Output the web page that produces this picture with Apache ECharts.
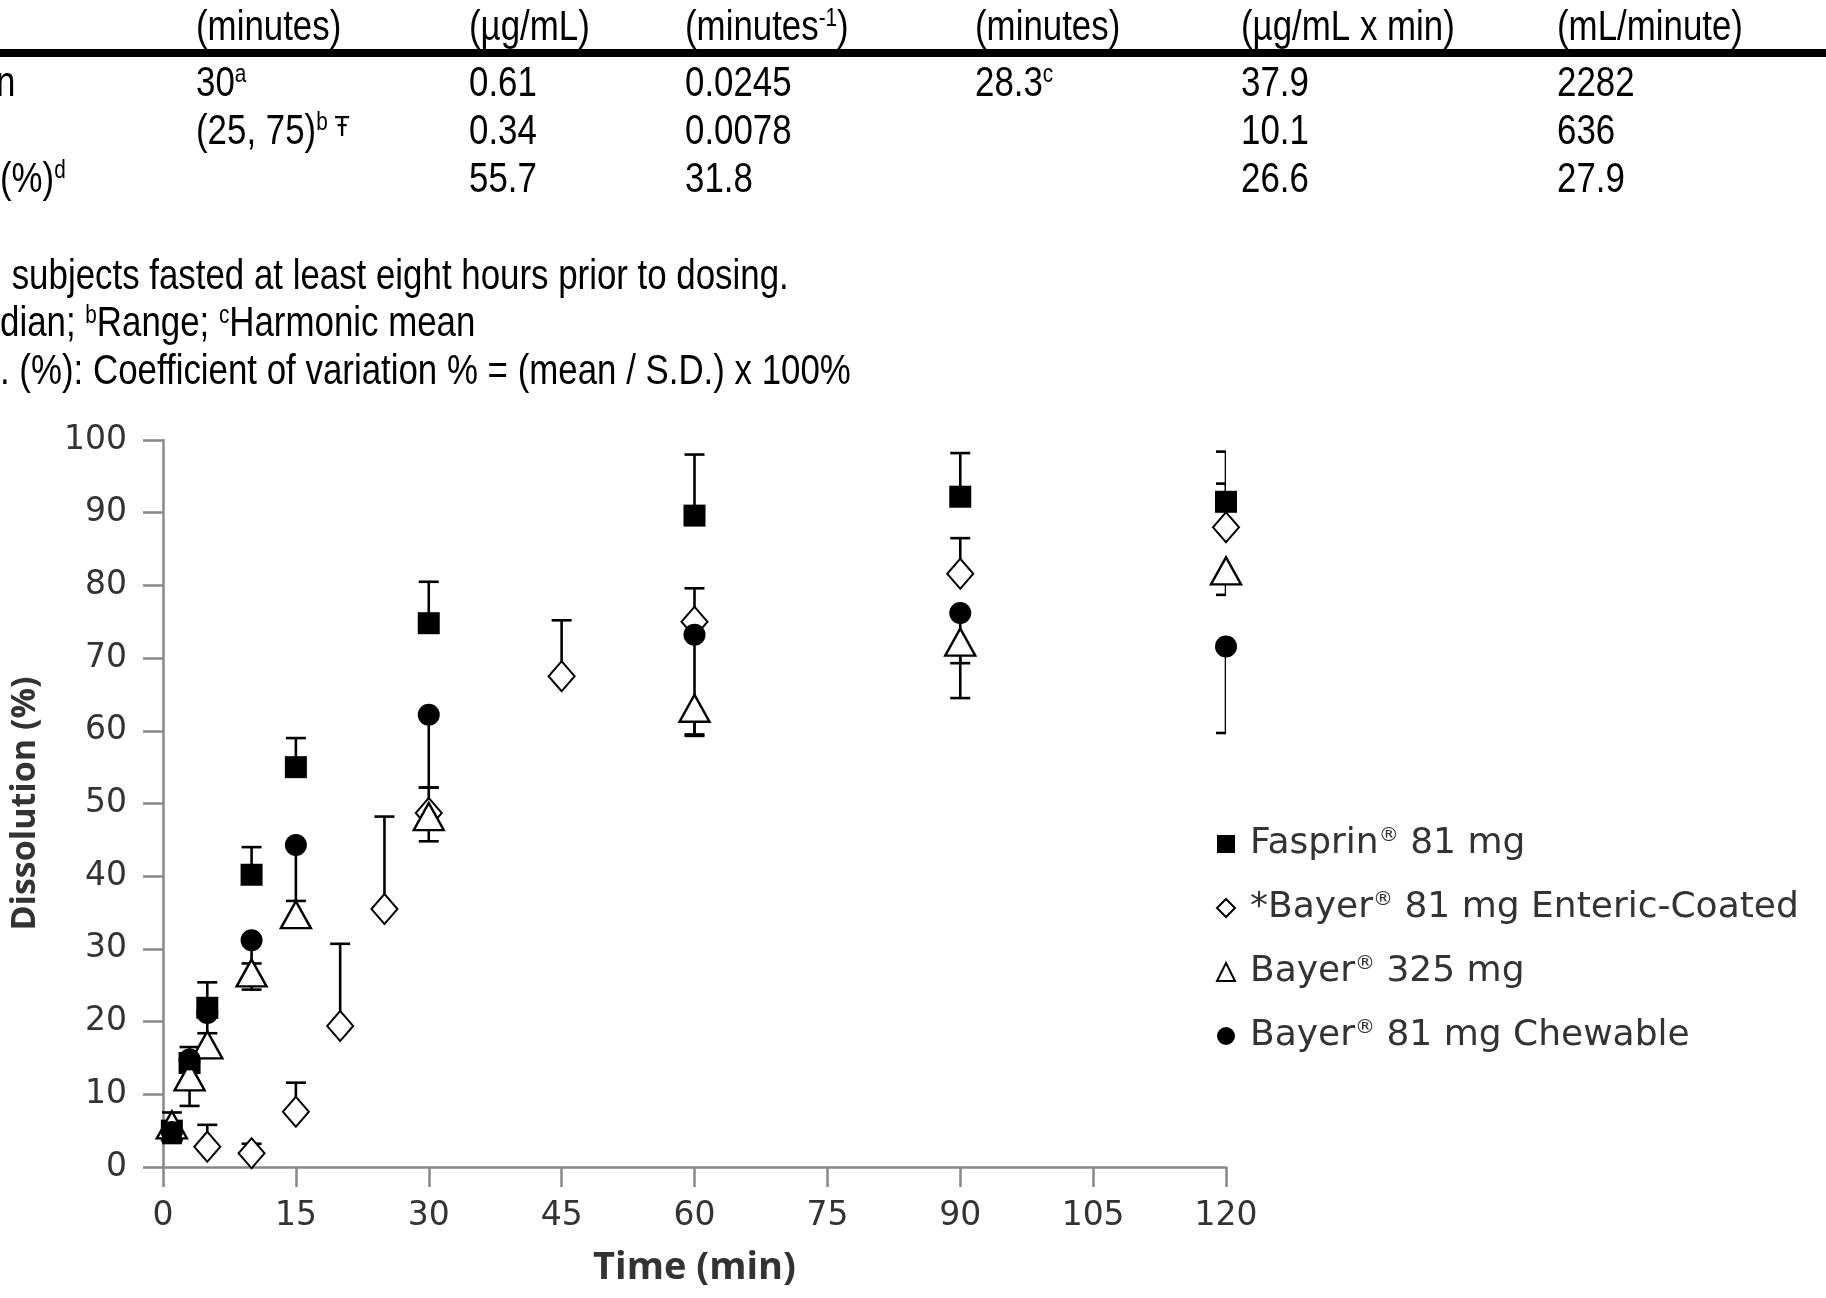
<!DOCTYPE html>
<html>
<head>
<meta charset="utf-8">
<script src="https://cdn.jsdelivr.net/npm/echarts@6/dist/echarts.min.js"></script>
<style>
  html, body { margin: 0; padding: 0; background: #fff; }
  #chart { width: 1826px; height: 1298px; }
</style>
</head>
<body>
<div id="chart"></div>
<script>
// dissolution data (time in min, % dissolved)
var fasprinT = [1, 3, 5, 10, 15, 30, 60, 90, 120];
var fasprinMean = [5, 14.3, 21.9, 40.2, 55, 74.8, 89.6, 92.2, 91.5];
var fasprinUpper = [7.5, 16.5, 25.4, 44, 59, 80.5, 98, 98.2, 98.4];

var ecT = [5, 10, 15, 20, 25, 30, 45, 60, 90, 120];
var ecMean = [2.8, 1.9, 7.6, 19.4, 35.5, 48.7, 67.5, 75, 81.6, 88];
var ecUpper = [5.8, 3.2, 11.6, 30.7, 48.2, 52.2, 75.2, 79.6, 86.5, 94];

var b325T = [1, 3, 5, 10, 15, 30, 60, 90, 120];
var b325Mean = [5.8, 12.4, 16.8, 26.7, 34.7, 48.2, 63.1, 72.2, 82];
var b325Lower = [3.3, 8.4, 15.5, 24.4, 33.5, 44.8, 59.3, 64.5, 78.7];

var chewT = [1, 3, 5, 10, 15, 30, 60, 90, 120];
var chewMean = [4.8, 14.8, 21.2, 31.2, 44.3, 62.2, 73.2, 76.2, 71.6];
var chewLower = [3.5, 13, 18.4, 28, 36.6, 52.2, 59.5, 69.3, 59.7];

var seriesNames = ['Fasprin® 81 mg', '*Bayer® 81 mg Enteric-Coated', 'Bayer® 325 mg', 'Bayer® 81 mg Chewable'];

// table above the chart
var tableHead = ['(minutes)', '(µg/mL)', '(minutes{s|-1})', '(minutes)', '(µg/mL x min)', '(mL/minute)'];
var tableRow1 = ['30{s|a}', '0.61', '0.0245', '28.3{s|c}', '37.9', '2282'];
var tableRow2 = ['(25, 75){s|b}{d| Ŧ}', '0.34', '0.0078', '', '10.1', '636'];
var tableRow3 = ['', '55.7', '31.8', '', '26.6', '27.9'];
var footnotes = [
  ' subjects fasted at least eight hours prior to dosing.',
  'dian; {s|b}Range; {s|c}Harmonic mean',
  '. (%): Coefficient of variation % = (mean / S.D.) x 100%'
];

var colX = [196, 469, 685, 975, 1241, 1557];
var tFont = '"Liberation Sans", Arial, sans-serif';
var rich = {
  s: { fontSize: 25, fontFamily: tFont, verticalAlign: 'top', lineHeight: 20, padding: [0, 0, 14, 0] },
  d: { fontSize: 30, fontFamily: tFont, color: '#444', padding: [0, 0, 8, 0] }
};

function tText(str, x, y) {
  return {
    type: 'text', x: x, y: y, scaleX: 0.83, silent: true,
    style: {
      text: str, fontSize: 42, fontFamily: tFont, fill: '#000',
      verticalAlign: 'middle', align: 'left', rich: rich
    }
  };
}

var graphics = [];
[[tableHead, 28], [tableRow1, 84], [tableRow2, 132], [tableRow3, 180]].forEach(function (r) {
  r[0].forEach(function (s, i) {
    if (s) graphics.push(tText(s, colX[i], r[1]));
  });
});
graphics.push(tText('n', -4, 84));
graphics.push(tText('(%){s|d}', 0, 180));
graphics.push({ type: 'rect', silent: true, shape: { x: 0, y: 49, width: 1826, height: 8 }, style: { fill: '#000' } });
footnotes.forEach(function (s, i) {
  graphics.push(tText(s, i === 0 ? 2 : 0, 277 + i * 47.5));
});

function errData(t, m, e) {
  return t.map(function (x, i) { return [x, m[i], e[i]]; });
}
function ptData(t, m) {
  return t.map(function (x, i) { return [x, m[i]]; });
}

function renderErr(params, api) {
  var x = api.value(0);
  var a = api.coord([x, api.value(1)]);
  var b = api.coord([x, api.value(2)]);
  var st = { stroke: '#000', lineWidth: 2.6 };
  return {
    type: 'group',
    children: [
      { type: 'line', shape: { x1: a[0], y1: a[1], x2: b[0], y2: b[1] }, style: st },
      { type: 'line', shape: { x1: b[0] - 10, y1: b[1], x2: b[0] + 10, y2: b[1] }, style: st }
    ]
  };
}

function errSeries(data) {
  return {
    type: 'custom', renderItem: renderErr, data: data, clip: true, z: 1,
    encode: { x: 0, y: [1, 2] }, silent: true
  };
}

var chart = echarts.init(document.getElementById('chart'));
var cFont = '"DejaVu Sans", "Open Sans", sans-serif';
var bFont = '"Open Sans", "DejaVu Sans", sans-serif';

var option = {
  backgroundColor: '#fff',
  animation: false,
  graphic: graphics,
  grid: { left: 162, right: 600, top: 440, bottom: 131 },
  legend: {
    orient: 'vertical', left: 1211, top: 821, itemGap: 28,
    itemWidth: 18, itemHeight: 18,
    data: seriesNames,
    formatter: function (n) { return n.replace('® ', '{r|®} '); },
    textStyle: {
      fontFamily: cFont, fontSize: 36, color: '#333', padding: [0, 0, 0, 10],
      rich: { r: { fontFamily: cFont, fontSize: 20, color: '#333', verticalAlign: 'top', padding: [0, 0, 14, 0] } }
    }
  },
  xAxis: {
    type: 'value', min: 0, max: 120, interval: 15,
    name: 'Time (min)', nameLocation: 'middle', nameGap: 82,
    nameTextStyle: { fontFamily: bFont, fontSize: 38, fontWeight: 'bold', color: '#333' },
    axisLine: { lineStyle: { color: '#888', width: 2.5 } },
    axisTick: { length: 20, lineStyle: { color: '#888', width: 2.5 } },
    axisLabel: { margin: 33, fontFamily: cFont, fontSize: 33, color: '#333' },
    splitLine: { show: false }
  },
  yAxis: {
    type: 'value', min: 0, max: 100, interval: 10,
    name: 'Dissolution (%)', nameLocation: 'middle', nameGap: 121,
    nameTextStyle: { fontFamily: bFont, fontSize: 34, fontWeight: 'bold', color: '#333' },
    axisLine: { show: true, lineStyle: { color: '#888', width: 2.5 } },
    axisTick: { show: true, length: 20, lineStyle: { color: '#888', width: 2.5 } },
    axisLabel: { margin: 36, fontFamily: cFont, fontSize: 33, color: '#333' },
    splitLine: { show: false }
  },
  series: [
    errSeries(errData(fasprinT, fasprinMean, fasprinUpper)),
    errSeries(errData(ecT, ecMean, ecUpper)),
    errSeries(errData(b325T, b325Mean, b325Lower)),
    errSeries(errData(chewT, chewMean, chewLower)),
    {
      name: seriesNames[0], type: 'scatter', symbol: 'rect', symbolSize: 22, z: 3,
      itemStyle: { color: '#000', opacity: 1 }, data: ptData(fasprinT, fasprinMean)
    },
    {
      name: seriesNames[1], type: 'scatter', symbol: 'diamond', symbolSize: [26, 30], z: 3,
      itemStyle: { color: '#fff', borderColor: '#000', borderWidth: 2, opacity: 1 }, data: ptData(ecT, ecMean)
    },
    {
      name: seriesNames[2], type: 'scatter', symbol: 'triangle', symbolSize: [30, 27], z: 3,
      itemStyle: { color: '#fff', borderColor: '#000', borderWidth: 2.4, opacity: 1 }, data: ptData(b325T, b325Mean)
    },
    {
      name: seriesNames[3], type: 'scatter', symbol: 'circle', symbolSize: 22, z: 4,
      itemStyle: { color: '#000', opacity: 1 }, data: ptData(chewT, chewMean)
    }
  ]
};
chart.setOption(option);
</script>
</body>
</html>
